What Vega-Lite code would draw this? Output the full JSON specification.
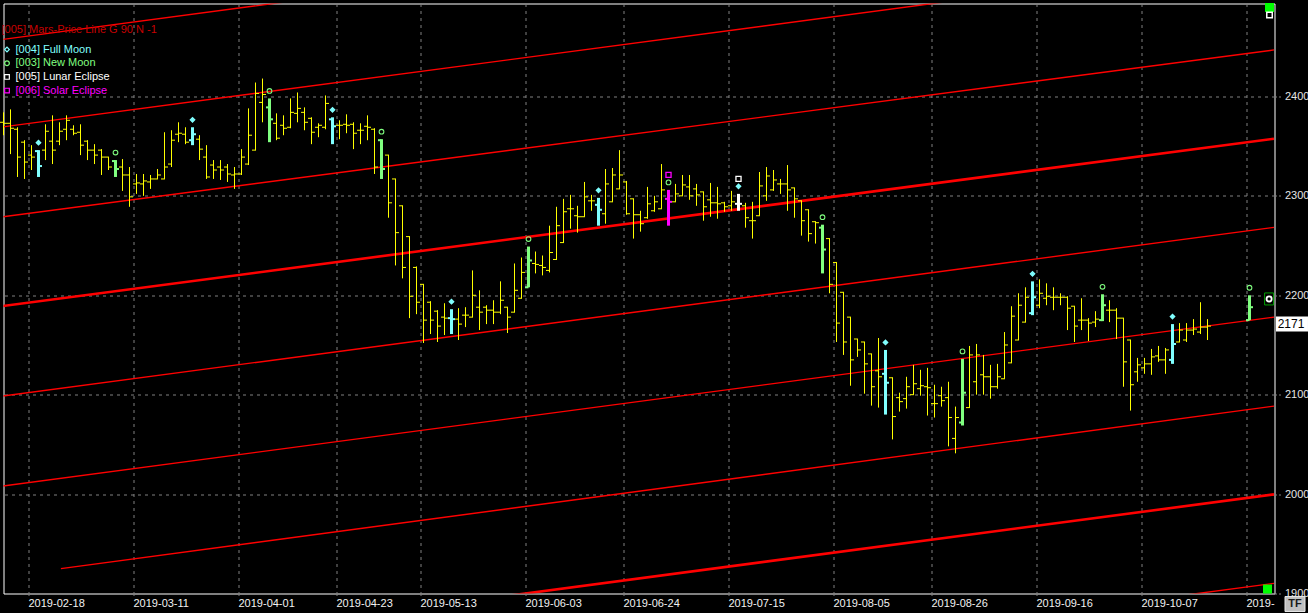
{
  "$schema": "https://vega.github.io/schema/vega-lite/v6.json",
  "width": 1271,
  "height": 590,
  "autosize": {"type": "none"},
  "padding": {"left": 3.5, "top": 3.5, "right": 33.5, "bottom": 19.5},
  "background": "#000000",
  "datasets": {
    "bars": [
      {"i":-4,"o":2374,"h":2384,"l":2361,"c":2373,"ev":"none"},
      {"i":-3,"o":2373,"h":2387,"l":2342,"c":2368,"ev":"none"},
      {"i":-2,"o":2367,"h":2369,"l":2319,"c":2339,"ev":"none"},
      {"i":-1,"o":2354,"h":2356,"l":2317,"c":2334,"ev":"none"},
      {"i":0,"o":2341,"h":2351,"l":2326,"c":2339,"ev":"none"},
      {"i":1,"o":2345,"h":2346,"l":2319,"c":2330,"ev":"[004] Full Moon"},
      {"i":2,"o":2346,"h":2372,"l":2336,"c":2365,"ev":"none"},
      {"i":3,"o":2355,"h":2381,"l":2332,"c":2346,"ev":"none"},
      {"i":4,"o":2355,"h":2374,"l":2351,"c":2365,"ev":"none"},
      {"i":5,"o":2367,"h":2381,"l":2356,"c":2376,"ev":"none"},
      {"i":6,"o":2367,"h":2371,"l":2361,"c":2363,"ev":"none"},
      {"i":7,"o":2364,"h":2372,"l":2341,"c":2351,"ev":"none"},
      {"i":8,"o":2355,"h":2356,"l":2336,"c":2346,"ev":"none"},
      {"i":9,"o":2346,"h":2352,"l":2332,"c":2341,"ev":"none"},
      {"i":10,"o":2346,"h":2347,"l":2321,"c":2339,"ev":"none"},
      {"i":11,"o":2339,"h":2339,"l":2326,"c":2329,"ev":"none"},
      {"i":12,"o":2335,"h":2336,"l":2319,"c":2327,"ev":"[003] New Moon"},
      {"i":13,"o":2329,"h":2337,"l":2305,"c":2321,"ev":"none"},
      {"i":14,"o":2321,"h":2329,"l":2289,"c":2299,"ev":"none"},
      {"i":15,"o":2312,"h":2322,"l":2302,"c":2313,"ev":"none"},
      {"i":16,"o":2312,"h":2322,"l":2300,"c":2315,"ev":"none"},
      {"i":17,"o":2314,"h":2321,"l":2307,"c":2317,"ev":"none"},
      {"i":18,"o":2317,"h":2327,"l":2317,"c":2321,"ev":"none"},
      {"i":19,"o":2317,"h":2364,"l":2317,"c":2329,"ev":"none"},
      {"i":20,"o":2332,"h":2366,"l":2329,"c":2356,"ev":"none"},
      {"i":21,"o":2362,"h":2374,"l":2354,"c":2363,"ev":"none"},
      {"i":22,"o":2362,"h":2369,"l":2352,"c":2354,"ev":"none"},
      {"i":23,"o":2356,"h":2369,"l":2351,"c":2362,"ev":"[004] Full Moon"},
      {"i":24,"o":2357,"h":2361,"l":2336,"c":2347,"ev":"none"},
      {"i":25,"o":2339,"h":2351,"l":2317,"c":2319,"ev":"none"},
      {"i":26,"o":2331,"h":2336,"l":2317,"c":2326,"ev":"none"},
      {"i":27,"o":2329,"h":2336,"l":2316,"c":2326,"ev":"none"},
      {"i":28,"o":2329,"h":2332,"l":2314,"c":2322,"ev":"none"},
      {"i":29,"o":2321,"h":2329,"l":2307,"c":2322,"ev":"none"},
      {"i":30,"o":2322,"h":2347,"l":2321,"c":2339,"ev":"none"},
      {"i":31,"o":2332,"h":2388,"l":2331,"c":2361,"ev":"none"},
      {"i":32,"o":2346,"h":2414,"l":2346,"c":2403,"ev":"none"},
      {"i":33,"o":2394,"h":2418,"l":2374,"c":2402,"ev":"none"},
      {"i":34,"o":2389,"h":2398,"l":2354,"c":2377,"ev":"[003] New Moon"},
      {"i":35,"o":2373,"h":2383,"l":2356,"c":2358,"ev":"none"},
      {"i":36,"o":2371,"h":2381,"l":2361,"c":2368,"ev":"none"},
      {"i":37,"o":2369,"h":2398,"l":2368,"c":2384,"ev":"none"},
      {"i":38,"o":2383,"h":2404,"l":2374,"c":2388,"ev":"none"},
      {"i":39,"o":2384,"h":2389,"l":2366,"c":2374,"ev":"none"},
      {"i":40,"o":2378,"h":2379,"l":2352,"c":2364,"ev":"none"},
      {"i":41,"o":2369,"h":2373,"l":2359,"c":2371,"ev":"none"},
      {"i":42,"o":2369,"h":2401,"l":2367,"c":2393,"ev":"none"},
      {"i":43,"o":2377,"h":2379,"l":2352,"c":2370,"ev":"[004] Full Moon"},
      {"i":44,"o":2371,"h":2376,"l":2357,"c":2371,"ev":"none"},
      {"i":45,"o":2372,"h":2382,"l":2363,"c":2371,"ev":"none"},
      {"i":46,"o":2372,"h":2374,"l":2347,"c":2363,"ev":"none"},
      {"i":47,"o":2366,"h":2373,"l":2352,"c":2366,"ev":"none"},
      {"i":48,"o":2370,"h":2381,"l":2356,"c":2369,"ev":"none"},
      {"i":49,"o":2367,"h":2368,"l":2322,"c":2329,"ev":"none"},
      {"i":50,"o":2356,"h":2357,"l":2317,"c":2327,"ev":"[003] New Moon"},
      {"i":51,"o":2341,"h":2341,"l":2278,"c":2293,"ev":"none"},
      {"i":52,"o":2317,"h":2317,"l":2230,"c":2263,"ev":"none"},
      {"i":53,"o":2290,"h":2290,"l":2217,"c":2228,"ev":"none"},
      {"i":54,"o":2259,"h":2259,"l":2177,"c":2199,"ev":"none"},
      {"i":55,"o":2228,"h":2229,"l":2181,"c":2193,"ev":"none"},
      {"i":56,"o":2211,"h":2211,"l":2152,"c":2175,"ev":"none"},
      {"i":57,"o":2193,"h":2194,"l":2161,"c":2175,"ev":"none"},
      {"i":58,"o":2184,"h":2185,"l":2153,"c":2169,"ev":"none"},
      {"i":59,"o":2178,"h":2192,"l":2160,"c":2177,"ev":"none"},
      {"i":60,"o":2177,"h":2186,"l":2161,"c":2176,"ev":"[004] Full Moon"},
      {"i":61,"o":2176,"h":2187,"l":2155,"c":2171,"ev":"none"},
      {"i":62,"o":2180,"h":2188,"l":2168,"c":2180,"ev":"none"},
      {"i":63,"o":2178,"h":2225,"l":2178,"c":2200,"ev":"none"},
      {"i":64,"o":2188,"h":2205,"l":2165,"c":2183,"ev":"none"},
      {"i":65,"o":2188,"h":2190,"l":2171,"c":2185,"ev":"none"},
      {"i":66,"o":2185,"h":2195,"l":2171,"c":2183,"ev":"none"},
      {"i":67,"o":2183,"h":2214,"l":2181,"c":2195,"ev":"none"},
      {"i":68,"o":2188,"h":2188,"l":2162,"c":2178,"ev":"none"},
      {"i":69,"o":2183,"h":2232,"l":2183,"c":2205,"ev":"none"},
      {"i":70,"o":2197,"h":2238,"l":2197,"c":2223,"ev":"none"},
      {"i":71,"o":2208,"h":2249,"l":2208,"c":2235,"ev":"[003] New Moon"},
      {"i":72,"o":2232,"h":2244,"l":2222,"c":2231,"ev":"none"},
      {"i":73,"o":2230,"h":2240,"l":2220,"c":2228,"ev":"none"},
      {"i":74,"o":2225,"h":2270,"l":2223,"c":2243,"ev":"none"},
      {"i":75,"o":2236,"h":2289,"l":2236,"c":2270,"ev":"none"},
      {"i":76,"o":2253,"h":2297,"l":2253,"c":2284,"ev":"none"},
      {"i":77,"o":2287,"h":2301,"l":2267,"c":2287,"ev":"none"},
      {"i":78,"o":2280,"h":2290,"l":2263,"c":2279,"ev":"none"},
      {"i":79,"o":2279,"h":2314,"l":2279,"c":2299,"ev":"none"},
      {"i":80,"o":2295,"h":2301,"l":2285,"c":2295,"ev":"none"},
      {"i":81,"o":2291,"h":2298,"l":2270,"c":2286,"ev":"[004] Full Moon"},
      {"i":82,"o":2282,"h":2327,"l":2272,"c":2312,"ev":"none"},
      {"i":83,"o":2294,"h":2328,"l":2294,"c":2321,"ev":"none"},
      {"i":84,"o":2307,"h":2346,"l":2307,"c":2321,"ev":"none"},
      {"i":85,"o":2314,"h":2315,"l":2281,"c":2282,"ev":"none"},
      {"i":86,"o":2297,"h":2297,"l":2257,"c":2281,"ev":"none"},
      {"i":87,"o":2281,"h":2285,"l":2264,"c":2272,"ev":"none"},
      {"i":88,"o":2278,"h":2309,"l":2277,"c":2292,"ev":"none"},
      {"i":89,"o":2285,"h":2300,"l":2284,"c":2294,"ev":"none"},
      {"i":90,"o":2287,"h":2332,"l":2287,"c":2306,"ev":"none"},
      {"i":91,"o":2297,"h":2306,"l":2270,"c":2294,"ev":"[006] Solar Eclipse"},
      {"i":92,"o":2294,"h":2312,"l":2294,"c":2302,"ev":"none"},
      {"i":93,"o":2300,"h":2321,"l":2300,"c":2311,"ev":"none"},
      {"i":94,"o":2309,"h":2321,"l":2296,"c":2300,"ev":"none"},
      {"i":95,"o":2307,"h":2312,"l":2290,"c":2301,"ev":"none"},
      {"i":96,"o":2304,"h":2304,"l":2275,"c":2289,"ev":"none"},
      {"i":97,"o":2296,"h":2313,"l":2279,"c":2293,"ev":"none"},
      {"i":98,"o":2293,"h":2309,"l":2277,"c":2292,"ev":"none"},
      {"i":99,"o":2293,"h":2294,"l":2284,"c":2289,"ev":"none"},
      {"i":100,"o":2290,"h":2305,"l":2285,"c":2294,"ev":"none"},
      {"i":101,"o":2292,"h":2302,"l":2285,"c":2292,"ev":"[005] Lunar Eclipse"},
      {"i":102,"o":2290,"h":2293,"l":2268,"c":2278,"ev":"none"},
      {"i":103,"o":2275,"h":2294,"l":2257,"c":2275,"ev":"none"},
      {"i":104,"o":2280,"h":2324,"l":2280,"c":2310,"ev":"none"},
      {"i":105,"o":2300,"h":2329,"l":2295,"c":2320,"ev":"none"},
      {"i":106,"o":2306,"h":2326,"l":2305,"c":2316,"ev":"none"},
      {"i":107,"o":2312,"h":2317,"l":2302,"c":2312,"ev":"none"},
      {"i":108,"o":2312,"h":2331,"l":2285,"c":2306,"ev":"none"},
      {"i":109,"o":2308,"h":2308,"l":2278,"c":2297,"ev":"none"},
      {"i":110,"o":2295,"h":2295,"l":2260,"c":2275,"ev":"none"},
      {"i":111,"o":2286,"h":2286,"l":2254,"c":2262,"ev":"none"},
      {"i":112,"o":2274,"h":2274,"l":2252,"c":2273,"ev":"none"},
      {"i":113,"o":2268,"h":2271,"l":2222,"c":2246,"ev":"[003] New Moon"},
      {"i":114,"o":2257,"h":2257,"l":2202,"c":2211,"ev":"none"},
      {"i":115,"o":2233,"h":2233,"l":2153,"c":2172,"ev":"none"},
      {"i":116,"o":2203,"h":2203,"l":2140,"c":2153,"ev":"none"},
      {"i":117,"o":2178,"h":2178,"l":2109,"c":2135,"ev":"none"},
      {"i":118,"o":2156,"h":2156,"l":2138,"c":2145,"ev":"none"},
      {"i":119,"o":2153,"h":2153,"l":2101,"c":2131,"ev":"none"},
      {"i":120,"o":2141,"h":2141,"l":2089,"c":2108,"ev":"none"},
      {"i":121,"o":2124,"h":2157,"l":2087,"c":2118,"ev":"none"},
      {"i":122,"o":2121,"h":2145,"l":2080,"c":2112,"ev":"[004] Full Moon"},
      {"i":123,"o":2117,"h":2117,"l":2055,"c":2078,"ev":"none"},
      {"i":124,"o":2097,"h":2102,"l":2083,"c":2093,"ev":"none"},
      {"i":125,"o":2096,"h":2118,"l":2086,"c":2108,"ev":"none"},
      {"i":126,"o":2100,"h":2130,"l":2100,"c":2111,"ev":"none"},
      {"i":127,"o":2106,"h":2125,"l":2099,"c":2109,"ev":"none"},
      {"i":128,"o":2108,"h":2127,"l":2079,"c":2107,"ev":"none"},
      {"i":129,"o":2091,"h":2110,"l":2077,"c":2091,"ev":"none"},
      {"i":130,"o":2099,"h":2108,"l":2088,"c":2094,"ev":"none"},
      {"i":131,"o":2097,"h":2113,"l":2048,"c":2077,"ev":"none"},
      {"i":132,"o":2056,"h":2088,"l":2041,"c":2077,"ev":"none"},
      {"i":133,"o":2072,"h":2136,"l":2069,"c":2102,"ev":"[003] New Moon"},
      {"i":134,"o":2087,"h":2149,"l":2087,"c":2140,"ev":"none"},
      {"i":135,"o":2113,"h":2151,"l":2100,"c":2140,"ev":"none"},
      {"i":136,"o":2120,"h":2140,"l":2100,"c":2118,"ev":"none"},
      {"i":137,"o":2118,"h":2130,"l":2096,"c":2108,"ev":"none"},
      {"i":138,"o":2108,"h":2131,"l":2106,"c":2118,"ev":"none"},
      {"i":139,"o":2116,"h":2163,"l":2116,"c":2150,"ev":"none"},
      {"i":140,"o":2132,"h":2189,"l":2132,"c":2179,"ev":"none"},
      {"i":141,"o":2155,"h":2202,"l":2155,"c":2190,"ev":"none"},
      {"i":142,"o":2173,"h":2208,"l":2173,"c":2198,"ev":"none"},
      {"i":143,"o":2182,"h":2214,"l":2180,"c":2198,"ev":"[004] Full Moon"},
      {"i":144,"o":2190,"h":2216,"l":2187,"c":2202,"ev":"none"},
      {"i":145,"o":2197,"h":2212,"l":2190,"c":2199,"ev":"none"},
      {"i":146,"o":2198,"h":2208,"l":2185,"c":2198,"ev":"none"},
      {"i":147,"o":2198,"h":2202,"l":2190,"c":2198,"ev":"none"},
      {"i":148,"o":2198,"h":2199,"l":2165,"c":2187,"ev":"none"},
      {"i":149,"o":2189,"h":2189,"l":2153,"c":2169,"ev":"none"},
      {"i":150,"o":2175,"h":2197,"l":2165,"c":2175,"ev":"none"},
      {"i":151,"o":2175,"h":2177,"l":2154,"c":2172,"ev":"none"},
      {"i":152,"o":2173,"h":2184,"l":2168,"c":2176,"ev":"none"},
      {"i":153,"o":2175,"h":2201,"l":2174,"c":2190,"ev":"[003] New Moon"},
      {"i":154,"o":2185,"h":2195,"l":2173,"c":2185,"ev":"none"},
      {"i":155,"o":2185,"h":2187,"l":2156,"c":2177,"ev":"none"},
      {"i":156,"o":2177,"h":2177,"l":2108,"c":2133,"ev":"none"},
      {"i":157,"o":2155,"h":2155,"l":2084,"c":2110,"ev":"none"},
      {"i":158,"o":2123,"h":2137,"l":2113,"c":2130,"ev":"none"},
      {"i":159,"o":2127,"h":2137,"l":2121,"c":2131,"ev":"none"},
      {"i":160,"o":2131,"h":2146,"l":2120,"c":2138,"ev":"none"},
      {"i":161,"o":2139,"h":2149,"l":2133,"c":2135,"ev":"none"},
      {"i":162,"o":2135,"h":2147,"l":2121,"c":2145,"ev":"none"},
      {"i":163,"o":2135,"h":2171,"l":2131,"c":2151,"ev":"[004] Full Moon"},
      {"i":164,"o":2153,"h":2172,"l":2153,"c":2165,"ev":"none"},
      {"i":165,"o":2155,"h":2172,"l":2153,"c":2165,"ev":"none"},
      {"i":166,"o":2165,"h":2176,"l":2160,"c":2166,"ev":"none"},
      {"i":167,"o":2163,"h":2193,"l":2161,"c":2168,"ev":"none"},
      {"i":168,"o":2168,"h":2176,"l":2155,"c":2169,"ev":"none"},
      {"i":174,"o":2175,"h":2200,"l":2175,"c":2188,"ev":"[003] New Moon"}
    ],
    "events": [
      {"i":1,"event":"[004] Full Moon"},{"i":23,"event":"[004] Full Moon"},{"i":43,"event":"[004] Full Moon"},
      {"i":60,"event":"[004] Full Moon"},{"i":81,"event":"[004] Full Moon"},{"i":101,"event":"[004] Full Moon"},
      {"i":122,"event":"[004] Full Moon"},{"i":143,"event":"[004] Full Moon"},{"i":163,"event":"[004] Full Moon"},
      {"i":12,"event":"[003] New Moon"},{"i":34,"event":"[003] New Moon"},{"i":50,"event":"[003] New Moon"},
      {"i":71,"event":"[003] New Moon"},{"i":91,"event":"[003] New Moon"},{"i":113,"event":"[003] New Moon"},
      {"i":133,"event":"[003] New Moon"},{"i":153,"event":"[003] New Moon"},{"i":174,"event":"[003] New Moon"},
      {"i":101,"event":"[005] Lunar Eclipse"},
      {"i":91,"event":"[006] Solar Eclipse"}
    ],
    "lines": [
      {"k":2,"harm":"minor","i":-4.5,"v":2457},{"k":2,"harm":"minor","i":177.5,"v":2627},
      {"k":1,"harm":"minor","i":-4.5,"v":2369},{"k":1,"harm":"minor","i":177.5,"v":2539},
      {"k":0,"harm":"minor","i":-4.5,"v":2278.6},{"k":0,"harm":"minor","i":177.5,"v":2446.8},
      {"k":-1,"harm":"major","i":-4.5,"v":2188.8},{"k":-1,"harm":"major","i":177.5,"v":2357.5},
      {"k":-2,"harm":"minor","i":-4.5,"v":2098.3},{"k":-2,"harm":"minor","i":177.5,"v":2268.3},
      {"k":-3,"harm":"minor","i":-4.5,"v":2007.8},{"k":-3,"harm":"minor","i":177.5,"v":2178},
      {"k":-4,"harm":"minor","i":4.2,"v":1925},{"k":-4,"harm":"minor","i":177.5,"v":2088.5},
      {"k":-5,"harm":"major","i":-4.5,"v":1830},{"k":-5,"harm":"major","i":177.5,"v":1999.7},
      {"k":-6,"harm":"minor","i":-4.5,"v":1740.6},{"k":-6,"harm":"minor","i":177.5,"v":1910.2}
    ],
    "ui": [
      {"item":"last","i":180.07,"v":2171,"label":"2171"},
      {"item":"cursor","i":176.8,"v":2196.3},
      {"item":"top","i":176.86,"v":2489.5},
      {"item":"topbox","i":176.86,"v":2481.9},
      {"item":"bottom","i":176.57,"v":1904.5},
      {"item":"tf","i":180.5,"v":1889.4,"label":"TF"}
    ]
  },
  "encoding": {
    "x": {"field": "i", "type": "quantitative", "title": null,
      "scale": {"domain": [-4, 177.5714], "nice": false, "zero": false},
      "axis": {
        "orient": "bottom",
        "values": [-0.5, 14.5, 29.5, 43.5, 55.5, 70.5, 84.5, 99.5, 114.5, 128.5, 143.5, 158.5, 173.5],
        "labelExpr": "['2019-02-18','2019-03-11','2019-04-01','2019-04-23','2019-05-13','2019-06-03','2019-06-24','2019-07-15','2019-08-05','2019-08-26','2019-09-16','2019-10-07','2019-'][indexof([-0.5,14.5,29.5,43.5,55.5,70.5,84.5,99.5,114.5,128.5,143.5,158.5,173.5], datum.value)]",
        "labelAlign": "left",
        "labelBaseline": "top",
        "tickSize": 3,
        "labelPadding": 1
      }
    }
  },
  "layer": [
    {
      "data": {"name": "lines"},
      "mark": {"type": "line", "clip": true, "color": "#ff0000"},
      "encoding": {
        "y": {"field": "v", "type": "quantitative", "title": null,
          "scale": {"domain": [1900, 2493.5], "nice": false, "zero": false},
          "axis": {"orient": "right", "values": [1900, 2000, 2100, 2200, 2300, 2400], "format": "d", "tickSize": 6, "labelPadding": 4, "labelBaseline": "middle", "labelColor": "#e6e6e6"}
        },
        "detail": {"field": "k", "type": "nominal"},
        "order": {"field": "i", "type": "quantitative"},
        "strokeWidth": {"field": "harm", "type": "nominal", "scale": {"domain": ["major", "minor"], "range": [2.6, 1.4]}, "legend": null}
      }
    },
    {
      "data": {"name": "bars"},
      "transform": [{"filter": {"field": "ev", "equal": "none"}}],
      "mark": {"type": "rule", "color": "#ffff00", "strokeWidth": 1},
      "encoding": {
        "y": {"field": "l", "type": "quantitative", "title": null, "scale": {"domain": [1900, 2493.5], "nice": false, "zero": false}},
        "y2": {"field": "h"}
      }
    },
    {
      "data": {"name": "bars"},
      "transform": [{"filter": {"field": "ev", "equal": "none"}}],
      "mark": {"type": "rule", "color": "#ffff00", "strokeWidth": 1, "xOffset": -3.5, "x2Offset": 0.5},
      "encoding": {
        "x2": {"field": "i"},
        "y": {"field": "o", "type": "quantitative", "title": null, "scale": {"domain": [1900, 2493.5], "nice": false, "zero": false}}
      }
    },
    {
      "data": {"name": "bars"},
      "transform": [{"filter": {"field": "ev", "equal": "none"}}],
      "mark": {"type": "rule", "color": "#ffff00", "strokeWidth": 1, "xOffset": -0.5, "x2Offset": 3.5},
      "encoding": {
        "x2": {"field": "i"},
        "y": {"field": "c", "type": "quantitative", "title": null, "scale": {"domain": [1900, 2493.5], "nice": false, "zero": false}}
      }
    },
    {
      "data": {"name": "bars"},
      "transform": [{"filter": {"not": {"field": "ev", "equal": "none"}}}],
      "mark": {"type": "rule", "strokeWidth": 3},
      "encoding": {
        "y": {"field": "l", "type": "quantitative", "title": null, "scale": {"domain": [1900, 2493.5], "nice": false, "zero": false}},
        "y2": {"field": "h"},
        "stroke": {"field": "ev", "type": "nominal", "legend": null,
          "scale": {"domain": ["none", "[004] Full Moon", "[003] New Moon", "[005] Lunar Eclipse", "[006] Solar Eclipse"], "range": ["#ffff00", "#80ffff", "#80ff80", "#ffffff", "#ff00ff"]}}
      }
    },
    {
      "data": {"name": "bars"},
      "transform": [{"filter": {"not": {"field": "ev", "equal": "none"}}}],
      "mark": {"type": "rule", "strokeWidth": 2, "xOffset": -3.5, "x2Offset": 0},
      "encoding": {
        "x2": {"field": "i"},
        "y": {"field": "o", "type": "quantitative", "title": null, "scale": {"domain": [1900, 2493.5], "nice": false, "zero": false}},
        "stroke": {"field": "ev", "type": "nominal", "legend": null,
          "scale": {"domain": ["none", "[004] Full Moon", "[003] New Moon", "[005] Lunar Eclipse", "[006] Solar Eclipse"], "range": ["#ffff00", "#80ffff", "#80ff80", "#ffffff", "#ff00ff"]}}
      }
    },
    {
      "data": {"name": "bars"},
      "transform": [{"filter": {"not": {"field": "ev", "equal": "none"}}}],
      "mark": {"type": "rule", "strokeWidth": 2, "xOffset": 0, "x2Offset": 3.5},
      "encoding": {
        "x2": {"field": "i"},
        "y": {"field": "c", "type": "quantitative", "title": null, "scale": {"domain": [1900, 2493.5], "nice": false, "zero": false}},
        "stroke": {"field": "ev", "type": "nominal", "legend": null,
          "scale": {"domain": ["none", "[004] Full Moon", "[003] New Moon", "[005] Lunar Eclipse", "[006] Solar Eclipse"], "range": ["#ffff00", "#80ffff", "#80ff80", "#ffffff", "#ff00ff"]}}
      }
    },
    {
      "data": {"name": "events"},
      "transform": [
        {"filter": {"field": "event", "equal": "[004] Full Moon"}},
        {"lookup": "i", "from": {"data": {"name": "bars"}, "key": "i", "fields": ["h"]}}
      ],
      "mark": {"type": "point", "shape": "diamond", "filled": true, "fill": "#80ffff", "stroke": "#80ffff", "strokeWidth": 1, "size": 14, "opacity": 1, "yOffset": -7.5},
      "encoding": {
        "y": {"field": "h", "type": "quantitative", "title": null, "scale": {"domain": [1900, 2493.5], "nice": false, "zero": false}}
      }
    },
    {
      "data": {"name": "events"},
      "transform": [
        {"filter": {"field": "event", "oneOf": ["[004] Full Moon", "[003] New Moon"]}},
        {"lookup": "i", "from": {"data": {"name": "bars"}, "key": "i", "fields": ["h"]}}
      ],
      "mark": {"type": "point", "filled": false, "opacity": 1, "strokeWidth": 1.1, "size": 22, "yOffset": -7.5},
      "encoding": {
        "y": {"field": "h", "type": "quantitative", "title": null, "scale": {"domain": [1900, 2493.5], "nice": false, "zero": false}},
        "color": {"field": "event", "type": "nominal", "title": "[005] Mars-Price Line G 90 N -1",
          "scale": {"domain": ["[004] Full Moon", "[003] New Moon", "[005] Lunar Eclipse", "[006] Solar Eclipse"], "range": ["#80ffff", "#80ff80", "#ffffff", "#ff00ff"]},
          "legend": {"orient": "none", "legendX": -2, "legendY": 20.5, "titleColor": "#c80000", "titleFontWeight": "normal", "titlePadding": 9, "titleBaseline": "top", "labelColor": {"expr": "scale('color', datum.value)"}, "labelLimit": 300, "labelOffset": 3, "rowPadding": 1.7, "padding": 0, "symbolSize": 22, "symbolStrokeWidth": 1.2, "zindex": 5}
        },
        "shape": {"field": "event", "type": "nominal", "title": "[005] Mars-Price Line G 90 N -1",
          "scale": {"domain": ["[004] Full Moon", "[003] New Moon", "[005] Lunar Eclipse", "[006] Solar Eclipse"], "range": ["diamond", "circle", "square", "square"]},
          "legend": {"orient": "none", "legendX": -2, "legendY": 20.5, "titleColor": "#c80000", "titleFontWeight": "normal", "titlePadding": 9, "titleBaseline": "top", "labelColor": {"expr": "scale('color', datum.value)"}, "labelLimit": 300, "labelOffset": 3, "rowPadding": 1.7, "padding": 0, "symbolSize": 22, "symbolStrokeWidth": 1.2, "zindex": 5}
        }
      }
    },
    {
      "data": {"name": "events"},
      "transform": [
        {"filter": {"field": "event", "oneOf": ["[005] Lunar Eclipse", "[006] Solar Eclipse"]}},
        {"lookup": "i", "from": {"data": {"name": "bars"}, "key": "i", "fields": ["h"]}}
      ],
      "mark": {"type": "point", "filled": false, "opacity": 1, "strokeWidth": 1.3, "size": 26, "yOffset": -15},
      "encoding": {
        "y": {"field": "h", "type": "quantitative", "title": null, "scale": {"domain": [1900, 2493.5], "nice": false, "zero": false}},
        "color": {"field": "event", "type": "nominal", "title": "[005] Mars-Price Line G 90 N -1",
          "scale": {"domain": ["[004] Full Moon", "[003] New Moon", "[005] Lunar Eclipse", "[006] Solar Eclipse"], "range": ["#80ffff", "#80ff80", "#ffffff", "#ff00ff"]},
          "legend": {"orient": "none", "legendX": -2, "legendY": 20.5, "titleColor": "#c80000", "titleFontWeight": "normal", "titlePadding": 9, "titleBaseline": "top", "labelColor": {"expr": "scale('color', datum.value)"}, "labelLimit": 300, "labelOffset": 3, "rowPadding": 1.7, "padding": 0, "symbolSize": 22, "symbolStrokeWidth": 1.2, "zindex": 5}
        },
        "shape": {"field": "event", "type": "nominal", "title": "[005] Mars-Price Line G 90 N -1",
          "scale": {"domain": ["[004] Full Moon", "[003] New Moon", "[005] Lunar Eclipse", "[006] Solar Eclipse"], "range": ["diamond", "circle", "square", "square"]},
          "legend": {"orient": "none", "legendX": -2, "legendY": 20.5, "titleColor": "#c80000", "titleFontWeight": "normal", "titlePadding": 9, "titleBaseline": "top", "labelColor": {"expr": "scale('color', datum.value)"}, "labelLimit": 300, "labelOffset": 3, "rowPadding": 1.7, "padding": 0, "symbolSize": 22, "symbolStrokeWidth": 1.2, "zindex": 5}
        }
      }
    },
    {
      "data": {"name": "ui"},
      "transform": [{"filter": {"field": "item", "equal": "last"}}],
      "mark": {"type": "point", "shape": "M-1,-0.47L1,-0.47L1,0.47L-1,0.47Z", "size": 1024, "filled": true, "fill": "#ffffff", "strokeWidth": 0, "opacity": 1},
      "encoding": {"y": {"field": "v", "type": "quantitative", "title": null, "scale": {"domain": [1900, 2493.5], "nice": false, "zero": false}}}
    },
    {
      "data": {"name": "ui"},
      "transform": [{"filter": {"field": "item", "equal": "last"}}],
      "mark": {"type": "text", "color": "#000000", "font": "Liberation Sans", "fontSize": 12, "align": "center", "baseline": "middle", "dx": -1},
      "encoding": {
        "y": {"field": "v", "type": "quantitative", "title": null, "scale": {"domain": [1900, 2493.5], "nice": false, "zero": false}},
        "text": {"field": "label"}
      }
    },
    {
      "data": {"name": "ui"},
      "transform": [{"filter": {"field": "item", "equal": "cursor"}}],
      "mark": {"type": "point", "shape": "M-0.75,-1L0.75,-1L0.75,1L-0.75,1Z", "size": 144, "filled": true, "fill": "#000000", "stroke": "#00a000", "strokeWidth": 1, "opacity": 1},
      "encoding": {"y": {"field": "v", "type": "quantitative", "title": null, "scale": {"domain": [1900, 2493.5], "nice": false, "zero": false}}}
    },
    {
      "data": {"name": "ui"},
      "transform": [{"filter": {"field": "item", "equal": "cursor"}}],
      "mark": {"type": "point", "shape": "circle", "size": 26, "filled": true, "fill": "#000000", "stroke": "#ffffff", "strokeWidth": 1.8, "opacity": 1},
      "encoding": {"y": {"field": "v", "type": "quantitative", "title": null, "scale": {"domain": [1900, 2493.5], "nice": false, "zero": false}}}
    },
    {
      "data": {"name": "ui"},
      "transform": [{"filter": {"field": "item", "oneOf": ["top", "bottom"]}}],
      "mark": {"type": "point", "shape": "square", "size": 81, "filled": true, "fill": "#00ff00", "strokeWidth": 0, "opacity": 1},
      "encoding": {"y": {"field": "v", "type": "quantitative", "title": null, "scale": {"domain": [1900, 2493.5], "nice": false, "zero": false}}}
    },
    {
      "data": {"name": "ui"},
      "transform": [{"filter": {"field": "item", "equal": "topbox"}}],
      "mark": {"type": "point", "shape": "square", "size": 30, "filled": true, "fill": "#000000", "stroke": "#ffffff", "strokeWidth": 1.5, "opacity": 1},
      "encoding": {"y": {"field": "v", "type": "quantitative", "title": null, "scale": {"domain": [1900, 2493.5], "nice": false, "zero": false}}}
    },
    {
      "data": {"name": "ui"},
      "transform": [{"filter": {"field": "item", "equal": "tf"}}],
      "mark": {"type": "point", "shape": "M-1,-0.75L1,-0.75L1,0.75L-1,0.75Z", "size": 400, "filled": true, "fill": "#c0c0c0", "stroke": "#e8e8e8", "strokeWidth": 1, "opacity": 1},
      "encoding": {"y": {"field": "v", "type": "quantitative", "title": null, "scale": {"domain": [1900, 2493.5], "nice": false, "zero": false}}}
    },
    {
      "data": {"name": "ui"},
      "transform": [{"filter": {"field": "item", "equal": "tf"}}],
      "mark": {"type": "text", "color": "#1a1a1a", "font": "Liberation Sans", "fontSize": 11, "fontWeight": "bold", "align": "center", "baseline": "middle"},
      "encoding": {
        "y": {"field": "v", "type": "quantitative", "title": null, "scale": {"domain": [1900, 2493.5], "nice": false, "zero": false}},
        "text": {"field": "label"}
      }
    }
  ],
  "config": {
    "font": "Liberation Sans",
    "view": {"stroke": "#ffffff", "strokeWidth": 1},
    "legend": {"titleFont": "Liberation Sans", "titleFontSize": 11, "labelFont": "Liberation Sans", "labelFontSize": 11},
    "axis": {
      "domain": false,
      "grid": true,
      "gridColor": "#808080",
      "gridDash": [3, 4],
      "gridWidth": 1,
      "labelColor": "#f2f2f2",
      "labelFont": "Liberation Sans",
      "labelFontSize": 11,
      "tickColor": "#808080",
      "tickDash": [2, 2],
      "labelOverlap": false,
      "labelFlush": false
    }
  }
}
